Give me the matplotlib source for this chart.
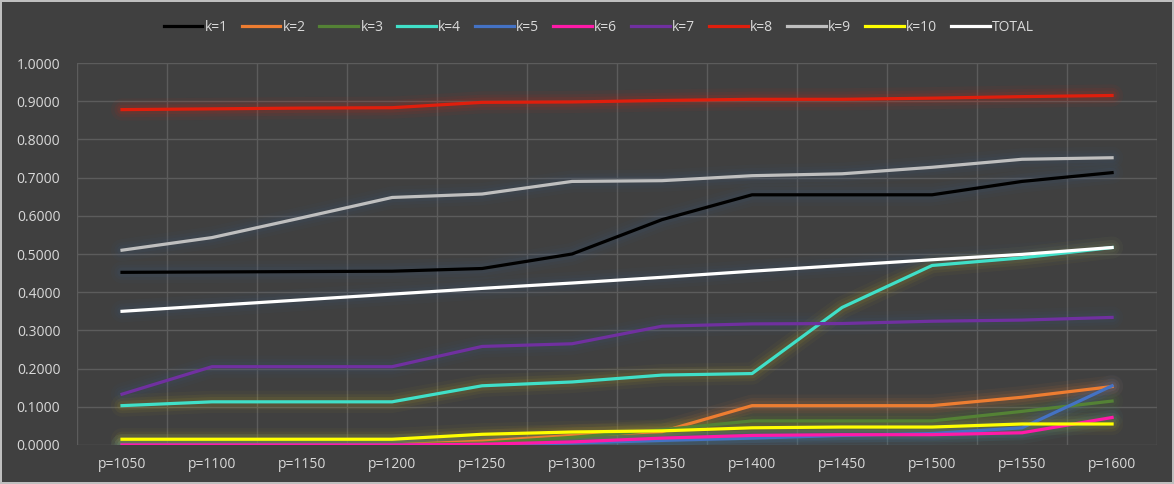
import matplotlib.pyplot as plt
import numpy as np

# x軸ラベル
p_labels = ["p=1050", "p=1100", "p=1150", "p=1200", "p=1250", "p=1300",
            "p=1350", "p=1400", "p=1450", "p=1500", "p=1550", "p=1600"]

# 各系列の値
k1 = [0.452, 0.453, 0.454, 0.455, 0.462, 0.500, 0.590, 0.655, 0.655, 0.655, 0.690, 0.713]
k2 = [0.000, 0.000, 0.000, 0.000, 0.010, 0.025, 0.035, 0.103, 0.103, 0.103, 0.125, 0.153]
k3 = [0.000, 0.000, 0.000, 0.000, 0.005, 0.020, 0.040, 0.063, 0.063, 0.063, 0.088, 0.115]
k4 = [0.103, 0.113, 0.113, 0.113, 0.155, 0.165, 0.183, 0.187, 0.360, 0.470, 0.490, 0.517]
k5 = [0.000, 0.000, 0.000, 0.000, 0.000, 0.005, 0.012, 0.018, 0.025, 0.030, 0.045, 0.155]
k6 = [0.000, 0.000, 0.000, 0.000, 0.002, 0.008, 0.018, 0.025, 0.027, 0.027, 0.032, 0.072]
k7 = [0.133, 0.205, 0.205, 0.205, 0.258, 0.265, 0.311, 0.317, 0.318, 0.324, 0.327, 0.334]
k8 = [0.878, 0.880, 0.882, 0.883, 0.897, 0.898, 0.902, 0.905, 0.905, 0.908, 0.912, 0.915]
k9 = [0.510, 0.543, 0.595, 0.648, 0.657, 0.690, 0.692, 0.705, 0.710, 0.727, 0.748, 0.752]
k10 = [0.015, 0.015, 0.015, 0.015, 0.028, 0.034, 0.037, 0.045, 0.047, 0.047, 0.055, 0.055]
total = [0.350, 0.365, 0.380, 0.395, 0.410, 0.424, 0.439, 0.455, 0.470, 0.485, 0.499, 0.517]

series = [
    ("k=1", k1, "#000000", "#3a5a80"),
    ("k=2", k2, "#ed7d31", "#ed7d31"),
    ("k=3", k3, "#548235", "#548235"),
    ("k=4", k4, "#40e0c8", "#b0a020"),
    ("k=5", k5, "#4472c4", "#4472c4"),
    ("k=6", k6, "#ff1aa8", "#40a0a0"),
    ("k=7", k7, "#7030a0", "#3a5a80"),
    ("k=8", k8, "#e01e0c", "#e01e0c"),
    ("k=9", k9, "#bfbfbf", "#3a5a80"),
    ("k=10", k10, "#ffff00", "#b0a020"),
    ("TOTAL", total, "#ffffff", "#3a5a80"),
]

bg = "#404040"
plt.rcParams['font.family'] = ['Open Sans', 'DejaVu Sans']

fig = plt.figure(figsize=(11.74, 4.84), dpi=100, facecolor=bg,
                 edgecolor="#bfbfbf", linewidth=1.5)
ax = fig.add_axes([0.0656, 0.0806, 0.92, 0.7892])
ax.set_facecolor(bg)

x = np.arange(len(p_labels))

# グロー（ぼかし）を重ね描き、その上に本線
for name, vals, col, glow in series:
    for w, a in [(16, 0.05), (11, 0.08), (7, 0.10)]:
        ax.plot(x, vals, color=glow, lw=w, alpha=a, solid_capstyle="round",
                solid_joinstyle="round", zorder=2)
lines = []
for name, vals, col, glow in series:
    ln, = ax.plot(x, vals, color=col, lw=2.3, label=name, zorder=3,
                  solid_joinstyle="round")
    lines.append(ln)

ax.set_xlim(-0.5, len(p_labels) - 0.5)
ax.set_ylim(0, 1.0)
ax.set_xticks(x)
ax.set_xticklabels(p_labels)
ax.set_xticks(np.arange(-0.5, len(p_labels), 1.0), minor=True)
ax.set_yticks(np.arange(0, 1.01, 0.1))
ax.set_yticklabels([f"{v:.4f}" for v in np.arange(0, 1.01, 0.1)])

ax.grid(True, which="minor", axis="x", color="#5c5c5c", lw=1)
ax.grid(True, which="major", axis="y", color="#5c5c5c", lw=1)
ax.set_axisbelow(True)
for s in ax.spines.values():
    s.set_visible(False)
ax.tick_params(which="both", length=0, colors="#d9d9d9", labelsize=10)
ax.tick_params(axis="x", pad=9)
ax.tick_params(axis="y", pad=12)

# 凡例は図の上部中央
leg = fig.legend(handles=lines, loc="center", bbox_to_anchor=(0.51, 0.944),
                 ncol=11, frameon=False, fontsize=10, handlelength=2.8,
                 handletextpad=0.15, columnspacing=1.0)
for t in leg.get_texts():
    t.set_color("#d9d9d9")

plt.savefig("out.png", dpi=100, facecolor=bg, edgecolor="#bfbfbf")
